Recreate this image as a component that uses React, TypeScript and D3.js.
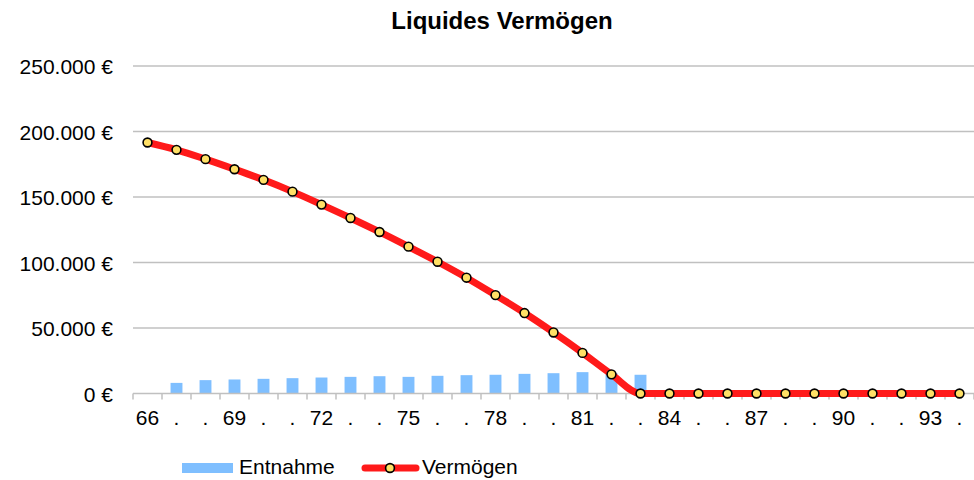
import * as d3 from 'd3';

const ages = d3.range(66, 95).map(String);
const tickLabels = ages.map((a, i) => (i % 3 === 0 ? a : '.'));

// Entnahme (withdrawal) per year, no bar at 66 and after 83
const entnahme = [
  0, 8100, 10200, 10700, 11200, 11700, 12200, 12700, 13200, 12700, 13500, 14000,
  14300, 15000, 15500, 16300, 15600, 14300, 0, 0, 0, 0, 0, 0, 0, 0, 0, 0, 0,
];

// Vermögen (liquid assets)
const vermoegen = [
  191600, 186000, 178900, 171200, 163100, 154100, 144200, 134000, 123300, 112100,
  100600, 88400, 75100, 61400, 46600, 31000, 14600, 0, 0, 0, 0, 0, 0, 0, 0, 0, 0, 0, 0,
];

const yTicks = [0, 50000, 100000, 150000, 200000, 250000];

const W = 974;
const H = 480;
const FONT = '"Liberation Sans", Arial, sans-serif';
const fmt = (v: number) => d3.format(',')(v).replace(/,/g, '.') + ' €';

export default function App() {
  const x = d3.scaleBand<string>().domain(ages).range([133, 974]).paddingInner(0.59).paddingOuter(0.295);
  const xc = (a: string) => (x(a) as number) + x.bandwidth() / 2;
  const step = x.step();
  const left = 133;
  const y = d3.scaleLinear().domain([0, 250000]).range([393.5, 66]);

  const line = d3
    .line<number>()
    .x((_, i) => xc(ages[i]))
    .y((d) => y(d))
    .curve(d3.curveMonotoneX);

  return (
    <svg
      width={W}
      height={H}
      style={{ position: 'absolute', left: 0, top: 0, background: '#fff' }}
      fontFamily={FONT}
    >
      <text x={502} y={29} textAnchor="middle" fontSize={24} fontWeight="bold" fill="#000">
        Liquides Vermögen
      </text>

      {yTicks.map((t) => (
        <g key={t}>
          {t > 0 && <line x1={left} x2={974} y1={y(t)} y2={y(t)} stroke="#c0c0c0" strokeWidth={1.5} />}
          <text x={113} y={y(t) + 8} textAnchor="end" fontSize={21} fill="#000">
            {fmt(t)}
          </text>
        </g>
      ))}

      {entnahme.map((v, i) =>
        v > 0 ? (
          <rect
            key={i}
            x={x(ages[i])}
            y={y(v)}
            width={x.bandwidth()}
            height={y(0) - y(v)}
            fill="#7fbfff"
          />
        ) : null
      )}

      <line x1={left} x2={974} y1={y(0)} y2={y(0)} stroke="#c0c0c0" strokeWidth={1.5} />
      {d3.range(ages.length + 1).map((i) => (
        <line
          key={i}
          x1={left + i * step}
          x2={left + i * step}
          y1={y(0)}
          y2={y(0) + 6}
          stroke="#c0c0c0"
          strokeWidth={1.5}
        />
      ))}
      {tickLabels.map((l, i) => (
        <text key={i} x={xc(ages[i])} y={425} textAnchor="middle" fontSize={21} fill="#000">
          {l}
        </text>
      ))}

      <path d={line(vermoegen) ?? ''} fill="none" stroke="#ff1a1a" strokeWidth={7} strokeLinejoin="round" />
      {vermoegen.map((v, i) => (
        <circle key={i} cx={xc(ages[i])} cy={y(v)} r={4.4} fill="#ffe066" stroke="#000" strokeWidth={1.6} />
      ))}

      <g>
        <rect x={182} y={463} width={51} height={10} fill="#7fbfff" />
        <text x={239} y={474} fontSize={21} fill="#000">
          Entnahme
        </text>
        <line x1={365} x2={416} y1={468} y2={468} stroke="#ff1a1a" strokeWidth={7} strokeLinecap="round" />
        <circle cx={390} cy={468} r={4.4} fill="#ffe066" stroke="#000" strokeWidth={1.6} />
        <text x={422} y={474} fontSize={21} fill="#000">
          Vermögen
        </text>
      </g>
    </svg>
  );
}
